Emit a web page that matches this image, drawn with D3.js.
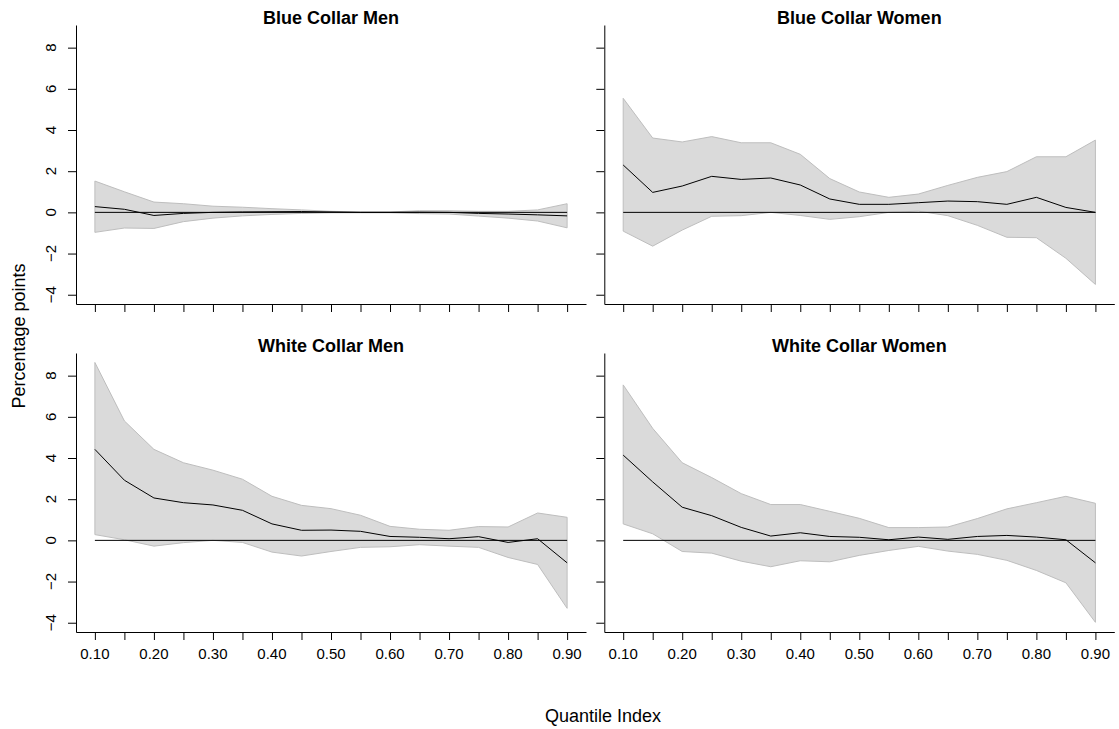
<!DOCTYPE html>
<html><head><meta charset="utf-8">
<script src="https://cdn.jsdelivr.net/npm/d3@7"></script>
<style>
body{margin:0;background:#fff}
svg{display:block}
text{font-family:"Liberation Sans",Arial,Helvetica,sans-serif;fill:#000}
</style>
</head><body>
<svg id="c" width="1119" height="729"></svg>
<script>
// ---------- data ----------
const quantiles = [0.10,0.15,0.20,0.25,0.30,0.35,0.40,0.45,0.50,0.55,0.60,0.65,0.70,0.75,0.80,0.85,0.90];

const panelTitles = ["Blue Collar Men","Blue Collar Women","White Collar Men","White Collar Women"];

const bcmMean  = [0.28,0.15,-0.15,-0.05,0.00,0.02,0.03,0.04,0.02,0.00,0.00,0.01,0.00,-0.05,-0.08,-0.12,-0.17];
const bcmUpper = [1.52,1.00,0.50,0.42,0.30,0.25,0.18,0.12,0.05,0.02,0.02,0.08,0.08,0.05,0.05,0.12,0.42];
const bcmLower = [-0.97,-0.76,-0.78,-0.45,-0.28,-0.17,-0.10,-0.05,-0.02,-0.02,-0.02,-0.06,-0.08,-0.18,-0.28,-0.42,-0.75];

const bcwMean  = [2.30,0.97,1.28,1.75,1.60,1.67,1.33,0.65,0.39,0.39,0.47,0.55,0.52,0.39,0.73,0.24,0.00];
const bcwUpper = [5.54,3.61,3.42,3.68,3.38,3.38,2.82,1.64,0.99,0.73,0.89,1.31,1.70,1.98,2.70,2.70,3.51];
const bcwLower = [-0.91,-1.64,-0.86,-0.19,-0.16,0.00,-0.15,-0.34,-0.21,0.00,0.06,-0.16,-0.63,-1.21,-1.23,-2.23,-3.50];

const wcmMean  = [4.42,2.92,2.06,1.83,1.72,1.46,0.80,0.49,0.50,0.44,0.19,0.15,0.08,0.18,-0.10,0.08,-1.09];
const wcmUpper = [8.64,5.80,4.42,3.77,3.41,2.97,2.14,1.70,1.54,1.22,0.68,0.54,0.49,0.67,0.65,1.33,1.12];
const wcmLower = [0.28,0.03,-0.28,-0.11,0.00,-0.10,-0.57,-0.76,-0.54,-0.34,-0.31,-0.21,-0.28,-0.34,-0.83,-1.17,-3.30];

const wcwMean  = [4.14,2.84,1.61,1.20,0.63,0.21,0.37,0.19,0.15,0.03,0.16,0.05,0.19,0.24,0.16,0.03,-1.09];
const wcwUpper = [7.55,5.44,3.77,3.05,2.27,1.74,1.74,1.41,1.07,0.62,0.62,0.65,1.06,1.53,1.83,2.14,1.80];
const wcwLower = [0.80,0.32,-0.54,-0.62,-1.01,-1.28,-0.99,-1.04,-0.73,-0.49,-0.29,-0.52,-0.68,-0.97,-1.46,-2.06,-3.98];

const xTickValues  = [0.10,0.15,0.20,0.25,0.30,0.35,0.40,0.45,0.50,0.55,0.60,0.65,0.70,0.75,0.80,0.85,0.90];
const xLabelValues = [0.10,0.20,0.30,0.40,0.50,0.60,0.70,0.80,0.90];
const yTickValues  = [-4,-2,0,2,4,6,8];

const xAxisTitle = "Quantile Index";
const yAxisTitle = "Percentage points";

// ---------- layout ----------
const svg = d3.select("#c");
const colX = [76, 604.3], rowY = [25, 353];
const pw = 510, ph = 279;
const xDomain = [0.068, 0.932], yDomain = [-4.45, 9.1];

const panels = [
  {mean:bcmMean, lo:bcmLower, hi:bcmUpper, c:0, r:0},
  {mean:bcwMean, lo:bcwLower, hi:bcwUpper, c:1, r:0},
  {mean:wcmMean, lo:wcmLower, hi:wcmUpper, c:0, r:1},
  {mean:wcwMean, lo:wcwLower, hi:wcwUpper, c:1, r:1}
];

panels.forEach((p, i) => {
  const x0 = colX[p.c], y0 = rowY[p.r];
  const x = d3.scaleLinear().domain(xDomain).range([x0, x0 + pw]);
  const y = d3.scaleLinear().domain(yDomain).range([y0 + ph, y0]);
  const g = svg.append("g");
  const rows = quantiles.map((q, k) => ({q, m:p.mean[k], lo:p.lo[k], hi:p.hi[k]}));

  // band
  g.append("path").datum(rows)
    .attr("d", d3.area().x(d => x(d.q)).y0(d => y(d.lo)).y1(d => y(d.hi)))
    .attr("fill", "#dadada").attr("stroke", "#bebebe").attr("stroke-width", 1);

  // estimate line
  g.append("path").datum(rows)
    .attr("d", d3.line().x(d => x(d.q)).y(d => y(d.m)))
    .attr("fill", "none").attr("stroke", "#000").attr("stroke-width", 1);

  // zero line
  g.append("line")
    .attr("x1", x(quantiles[0])).attr("x2", x(quantiles[quantiles.length-1]))
    .attr("y1", y(0)).attr("y2", y(0))
    .attr("stroke", "#000").attr("stroke-width", 1);

  // x axis (ticks)
  const gx = g.append("g").attr("transform", `translate(0,${y0 + ph})`)
    .call(d3.axisBottom(x).tickValues(xTickValues).tickSize(8).tickSizeOuter(0).tickFormat(""));
  gx.select(".domain").attr("stroke", "#000");
  gx.selectAll(".tick line").attr("stroke", "#000");

  if (p.r === 1) {
    g.selectAll("text.xl").data(xLabelValues).enter().append("text")
      .attr("class", "xl")
      .attr("x", d => x(d)).attr("y", y0 + ph + 27.3)
      .attr("text-anchor", "middle").attr("font-size", 15)
      .text(d => d3.format(".2f")(d));
  }

  // y axis
  const gy = g.append("g").attr("transform", `translate(${x0},0)`)
    .call(d3.axisLeft(y).tickValues(yTickValues).tickSize(8).tickSizeOuter(0).tickFormat(""));
  gy.select(".domain").attr("stroke", "#000");
  gy.selectAll(".tick line").attr("stroke", "#000");

  if (p.c === 0) {
    g.selectAll("text.yl").data(yTickValues).enter().append("text")
      .attr("class", "yl")
      .attr("transform", d => `translate(${x0 - 20.5},${y(d)}) rotate(-90)`)
      .attr("text-anchor", "middle").attr("font-size", 15)
      .text(d => d < 0 ? "\u2212" + Math.abs(d) : String(d));
  }

  // title
  g.append("text")
    .attr("x", x0 + pw / 2).attr("y", y0 - 1)
    .attr("text-anchor", "middle").attr("font-size", 18).attr("font-weight", "bold")
    .text(panelTitles[i]);
});

// axis titles
svg.append("text")
  .attr("x", 603).attr("y", 722)
  .attr("text-anchor", "middle").attr("font-size", 18)
  .text(xAxisTitle);

svg.append("text")
  .attr("transform", "translate(24.5,336) rotate(-90)")
  .attr("text-anchor", "middle").attr("font-size", 18)
  .text(yAxisTitle);
</script>
</body></html>
